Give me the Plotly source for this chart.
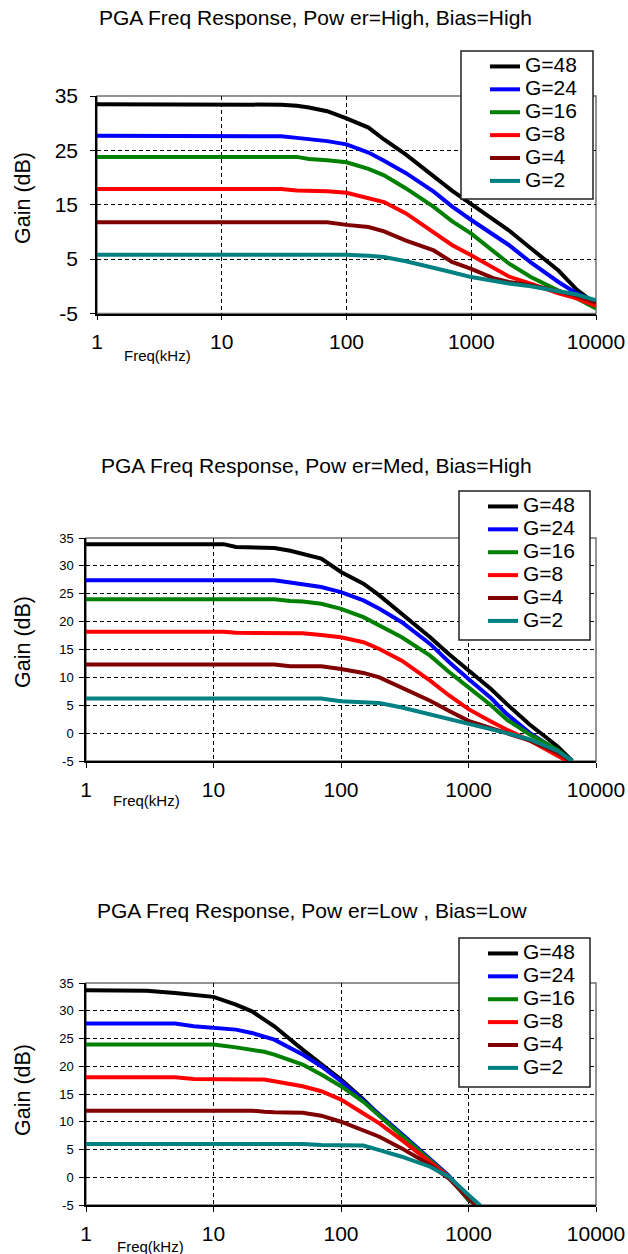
import plotly.graph_objects as go

W, H = 628, 1254

NAMES = ["G=48", "G=24", "G=16", "G=8", "G=4", "G=2"]
COLORS = ["#000000", "#0000FF", "#008000", "#FF0000", "#800000", "#008080"]
X_TICKS = [1, 10, 100, 1000, 10000]
X_TICK_LABELS = ["1", "10", "100", "1000", "10000"]

# ---- Plot 1: Power=High, Bias=High ----
FREQ_1 = [1, 10, 20, 30, 40, 50, 70, 100, 150, 200, 300, 500, 700, 1000, 1500, 2000, 3000, 5000, 7000, 10000]
G48_1 = [33.5, 33.5, 33.5, 33.4, 33.2, 32.9, 32.2, 30.9, 29.2, 27.0, 24.2, 20.2, 17.6, 15.1, 12.4, 10.3, 7.0, 2.9, -0.6, -3.3]
G24_1 = [27.7, 27.7, 27.7, 27.6, 27.3, 27.1, 26.7, 26.1, 24.6, 23.1, 20.8, 17.4, 14.7, 12.2, 9.6, 7.6, 4.4, 0.8, -1.3, -3.0]
G16_1 = [23.8, 23.8, 23.8, 23.8, 23.8, 23.4, 23.2, 22.8, 21.6, 20.4, 18.0, 14.6, 12.0, 9.7, 6.6, 4.2, 1.7, -0.8, -2.2, -4.1]
G8_1 = [17.9, 17.9, 17.9, 17.9, 17.6, 17.6, 17.5, 17.2, 16.3, 15.5, 13.4, 9.8, 7.6, 5.7, 3.3, 1.8, 0.5, -1.3, -2.2, -3.6]
G4_1 = [11.8, 11.8, 11.8, 11.8, 11.8, 11.8, 11.8, 11.3, 10.9, 10.1, 8.4, 6.6, 4.5, 3.2, 1.5, 0.8, 0.2, -0.9, -1.7, -3.0]
G2_1 = [5.8, 5.8, 5.8, 5.8, 5.8, 5.8, 5.8, 5.8, 5.6, 5.4, 4.6, 3.5, 2.6, 1.7, 0.9, 0.5, 0.0, -1.0, -1.5, -2.6]

# ---- Plot 2: Power=Med, Bias=High ----
FREQ_2 = [1, 12, 15, 30, 40, 50, 70, 100, 150, 200, 300, 500, 700, 1000, 1500, 2000, 3000, 5000, 6500]
G48_2 = [33.9, 33.9, 33.4, 33.2, 32.7, 32.2, 31.3, 28.9, 26.8, 24.7, 21.4, 17.2, 14.2, 11.2, 7.9, 5.2, 1.6, -2.4, -5.0]
G24_2 = [27.4, 27.4, 27.4, 27.4, 27.0, 26.7, 26.2, 25.3, 23.8, 22.3, 19.9, 16.0, 12.8, 9.7, 6.3, 3.4, 0.1, -3.2, -5.0]
G16_2 = [24.0, 24.0, 24.0, 24.0, 23.7, 23.6, 23.2, 22.3, 20.8, 19.3, 17.2, 13.9, 11.0, 8.2, 5.0, 2.4, -0.2, -3.0, -5.0]
G8_2 = [18.2, 18.2, 18.0, 18.0, 18.0, 17.9, 17.6, 17.2, 16.3, 15.1, 13.0, 9.4, 6.8, 4.3, 2.1, 0.6, -1.3, -4.1, -5.5]
G4_2 = [12.3, 12.3, 12.3, 12.3, 12.0, 12.0, 12.0, 11.5, 10.8, 10.0, 8.2, 5.8, 4.0, 2.2, 0.9, 0.0, -1.3, -3.5, -5.2]
G2_2 = [6.2, 6.2, 6.2, 6.2, 6.2, 6.2, 6.2, 5.7, 5.6, 5.4, 4.6, 3.4, 2.6, 1.6, 0.7, 0.0, -1.1, -3.2, -5.0]

# ---- Plot 3: Power=Low, Bias=Low ----
FREQ_3 = [1, 3, 5, 7, 10, 15, 20, 25, 30, 50, 70, 100, 150, 200, 300, 500, 700, 1000, 1250]
G48_3 = [33.7, 33.6, 33.2, 32.9, 32.5, 31.1, 29.9, 28.4, 27.2, 23.0, 20.3, 17.6, 14.0, 11.2, 7.6, 3.1, 0.1, -4.1, -5.5]
G24_3 = [27.7, 27.7, 27.7, 27.2, 27.0, 26.6, 26.0, 25.4, 24.8, 22.1, 20.0, 17.3, 13.9, 11.3, 7.8, 3.3, 0.3, -3.9, -5.5]
G16_3 = [23.9, 23.9, 23.9, 23.9, 23.9, 23.4, 23.0, 22.6, 22.1, 20.3, 18.5, 16.4, 13.6, 11.1, 7.6, 3.1, 0.1, -4.0, -5.4]
G8_3 = [18.0, 18.0, 18.0, 17.7, 17.7, 17.7, 17.7, 17.6, 17.3, 16.4, 15.5, 14.0, 11.5, 9.7, 6.7, 2.8, 0.1, -3.8, -5.6]
G4_3 = [12.0, 12.0, 12.0, 12.0, 12.0, 12.0, 12.0, 11.8, 11.7, 11.6, 11.1, 10.0, 8.5, 7.3, 5.2, 2.2, -0.2, -3.8, -5.6]
G2_3 = [6.0, 6.0, 6.0, 6.0, 6.0, 6.0, 6.0, 6.0, 6.0, 6.0, 5.8, 5.7, 5.7, 4.9, 3.7, 1.9, 0.1, -3.2, -5.2]

Y_TICKS_1 = [-5, 5, 15, 25, 35]
Y_TICKS_23 = [-5, 0, 5, 10, 15, 20, 25, 30, 35]

PLOTS = [
    dict(title="PGA Freq Response, Pow er=High, Bias=High", freq=FREQ_1,
         series=[G48_1, G24_1, G16_1, G8_1, G4_1, G2_1], yticks=Y_TICKS_1),
    dict(title="PGA Freq Response, Pow er=Med, Bias=High", freq=FREQ_2,
         series=[G48_2, G24_2, G16_2, G8_2, G4_2, G2_2], yticks=Y_TICKS_23),
    dict(title="PGA Freq Response, Pow er=Low , Bias=Low", freq=FREQ_3,
         series=[G48_3, G24_3, G16_3, G8_3, G4_3, G2_3], yticks=Y_TICKS_23),
]

# page-pixel layout (left, right, top, bottom) of each plot area
AREAS = [(97, 596, 96, 313.5), (86, 596, 538, 761), (86, 596, 983, 1205)]
LEGEND_BOX = [(461, 593, 51, 199), (459, 590, 491, 640), (459, 590, 938, 1087)]
TITLE_POS = [(315, 17), (316, 465), (312, 910)]
YTITLE_Y = [198, 642, 1090]
FREQ_LABEL = [(157, 355), (146, 800), (150, 1246)]

px = lambda x: x / W
py = lambda y: 1 - y / H

FONT = "Liberation Sans, Arial, sans-serif"

fig = go.Figure()
annotations = []
shapes = []
layout = dict(
    width=W, height=H, margin=dict(l=0, r=0, t=0, b=0, autoexpand=False),
    paper_bgcolor="white", plot_bgcolor="white",
    font=dict(family=FONT, color="#000000"),
    showlegend=True,
)

for i, p in enumerate(PLOTS):
    k = "" if i == 0 else str(i + 1)
    l, r, t, b = AREAS[i]
    leg = "legend" + k
    for name, color, vals in zip(NAMES, COLORS, p["series"]):
        fig.add_trace(go.Scatter(
            x=p["freq"], y=vals, mode="lines",
            name='<span style="font-size:21px">%s</span>' % name,
            line=dict(color=color, width=4),
            xaxis="x" + k, yaxis="y" + k, legend=leg,
        ))
    small = i > 0
    layout["xaxis" + k] = dict(
        type="log", range=[0, 4], domain=[px(l), px(r)], anchor="y" + k,
        tickvals=X_TICKS, ticktext=X_TICK_LABELS,
        ticks="outside", ticklen=5, tickcolor="#000000",
        showline=True, linecolor="#000000", linewidth=1.5,
        showgrid=True, gridcolor="#000000", gridwidth=1, griddash="4px,3px",
        tickfont=dict(size=21, family=FONT), ticklabelstandoff=4,
        zeroline=False, fixedrange=True, automargin=False,
    )
    layout["yaxis" + k] = dict(
        range=[-5, 35], domain=[py(b), py(t)], anchor="x" + k,
        tickvals=p["yticks"], ticktext=[str(v) for v in p["yticks"]],
        ticks="outside", ticklen=5, tickcolor="#000000",
        showline=True, linecolor="#000000", linewidth=1.5,
        showgrid=True, gridcolor="#000000", gridwidth=1, griddash="4px,3px",
        tickfont=dict(size=13 if small else 21, family=FONT),
        ticklabelstandoff=3 if small else 8,
        zeroline=False, fixedrange=True, automargin=False,
    )
    bx0, bx1, by0, by1 = LEGEND_BOX[i]
    # legend frame
    shapes.append(dict(type="rect", xref="paper", yref="paper",
                       x0=px(bx0), x1=px(bx1), y0=py(by1), y1=py(by0),
                       line=dict(color="#202020", width=1.5), fillcolor="white", layer="above"))
    layout[leg] = dict(
        x=px(bx0 + 24), y=py(by0 - 1), xanchor="left", yanchor="top",
        bgcolor="rgba(0,0,0,0)", borderwidth=0,
        font=dict(size=15.3, family=FONT), traceorder="normal",
        itemwidth=30, tracegroupgap=0,
    )
    # gray frame (top/right border)
    shapes.append(dict(type="rect", xref="x" + k + " domain", yref="y" + k + " domain",
                       x0=0, x1=1, y0=0, y1=1, line=dict(color="#707070", width=1.5),
                       layer="below"))
    tx, ty = TITLE_POS[i]
    annotations.append(dict(text=p["title"], x=px(tx), y=py(ty), xref="paper", yref="paper",
                            showarrow=False, font=dict(size=21, family=FONT), xanchor="center", yanchor="middle"))
    annotations.append(dict(text="Gain (dB)", x=px(23), y=py(YTITLE_Y[i]), xref="paper", yref="paper",
                            showarrow=False, textangle=-90, font=dict(size=21.5, family=FONT),
                            xanchor="center", yanchor="middle"))
    fx, fy = FREQ_LABEL[i]
    annotations.append(dict(text="Freq(kHz)", x=px(fx), y=py(fy), xref="paper", yref="paper",
                            showarrow=False, font=dict(size=15, family=FONT),
                            xanchor="center", yanchor="middle"))

layout["annotations"] = annotations
layout["shapes"] = shapes
fig.update_layout(**layout)
# remove the browser's default 8px body margin so the 628x1254 figure fills the window
fig.write_html("out.html", config={"displayModeBar": False},
               post_script="document.body.style.margin='0';document.body.style.overflow='hidden';")
